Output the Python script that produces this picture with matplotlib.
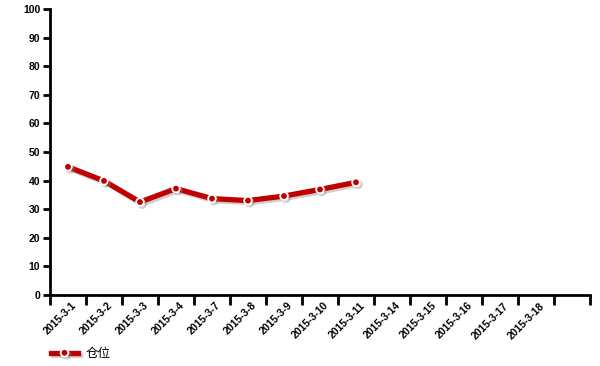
import matplotlib
matplotlib.use("Agg")
import matplotlib.pyplot as plt
import matplotlib.patheffects as pe
import numpy as np

categories = ["2015-3-1", "2015-3-2", "2015-3-3", "2015-3-4", "2015-3-7", "2015-3-8",
              "2015-3-9", "2015-3-10", "2015-3-11", "2015-3-14", "2015-3-15",
              "2015-3-16", "2015-3-17", "2015-3-18", ""]
values = [44.8, 39.9, 32.5, 37.2, 33.7, 33.0, 34.6, 36.9, 39.4]
series_name = "仓位"

plt.rcParams['font.family'] = ['Liberation Sans', 'Noto Sans CJK SC', 'DejaVu Sans']

fig = plt.figure(figsize=(6, 3.66), dpi=100)
ax = fig.add_axes([50/600, 1-295/366, 540/600, 286/366])

n = len(categories)
x = np.arange(len(values))
shadow = [pe.SimpleLineShadow(offset=(1.5, -1.5), shadow_color='#888888', alpha=0.4), pe.Normal()]
line, = ax.plot(x, values, color='#C00000', lw=3.8, marker='o', markersize=5.5,
                markerfacecolor='#C00000', markeredgecolor='white', markeredgewidth=1.3,
                solid_joinstyle='round', path_effects=shadow, label=series_name, zorder=3)

ax.set_xlim(-0.5, n - 0.5)
ax.set_ylim(0, 100)
ax.set_yticks(np.arange(0, 101, 10))
ax.set_xticks(np.arange(-0.5, n, 1.0))
ax.set_xticklabels([])
ax.set_xticks(np.arange(n) + 0.1, minor=True)
ax.set_xticklabels(categories, minor=True, rotation=45, ha='right', rotation_mode='anchor',
                   fontsize=7.5, fontweight='bold')
ax.tick_params(axis='x', which='minor', length=0, pad=4)
ax.tick_params(axis='x', which='major', length=7, width=2, direction='out')
ax.tick_params(axis='y', length=5, width=2, direction='out', labelsize=7.5, pad=2)
for t in ax.get_yticklabels():
    t.set_fontweight('bold')

for s in ['top', 'right']:
    ax.spines[s].set_visible(False)
for s in ['left', 'bottom']:
    ax.spines[s].set_linewidth(2)

leg = fig.legend(handles=[line], loc='lower left', bbox_to_anchor=(42/600, -0.008),
                 frameon=False, fontsize=9, handlelength=2.2, handletextpad=0.6,
                 borderaxespad=0.3)

fig.savefig("out.png", dpi=100)
